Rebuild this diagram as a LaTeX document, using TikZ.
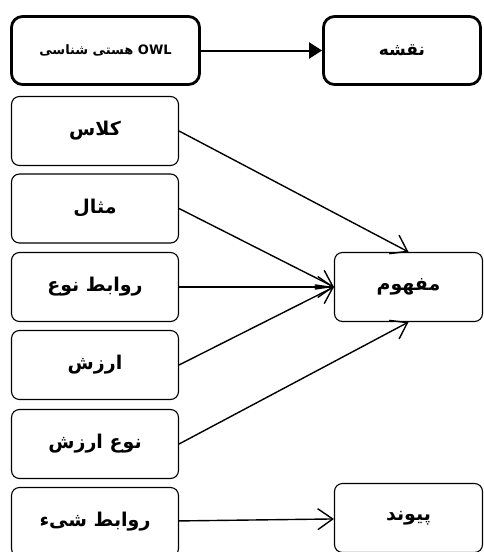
\documentclass[tikz,border=0pt]{standalone}
\usepackage{fontspec}
\newfontfamily\arabicfont[Script=Arabic]{DejaVu Sans}
\TeXXeTstate=1
\usetikzlibrary{arrows.meta}
\tikzset{
  every picture/.style={font=\arabicfont\bfseries},
  item/.style={draw, rounded corners=8pt, line width=1.1pt,
    minimum width=167pt, minimum height=69pt,
    font=\arabicfont\bfseries\fontsize{19}{22}\selectfont},
  topbox/.style={item, line width=2.8pt, rounded corners=11pt, minimum height=68pt},
  conn/.style={line width=1.4pt, -{Straight Barb[length=15pt, width=21pt]}},
  flow/.style={line width=2pt, -{Triangle[length=13pt, width=16pt]}},
}
\newcommand{\fatext}[1]{\beginR #1\endR}
\def\colx{95}
\def\rcolx{408.5}

\begin{document}
\begin{tikzpicture}[x=1pt, y=-1pt]
  \path[use as bounding box] (0,0) rectangle (484,552);
  \clip (0,0) rectangle (484,552);
  % top row
  \node[topbox, minimum width=188pt, font=\arabicfont\bfseries\fontsize{13}{15}\selectfont]
    (owl) at (105.5,50.5) {\fatext{\beginL OWL\endL{} هستی شناسی}};
  \node[topbox, minimum width=157pt, font=\arabicfont\bfseries\fontsize{17}{20}\selectfont]
    (map) at (402,50.5) {\fatext{نقشه}};
  \draw[flow] (owl) -- (map);
  % left column
  \node[item] (cls)  at (\colx,131)   {\fatext{کلاس}};
  \node[item] (inst) at (\colx,208.5) {\fatext{مثال}};
  \node[item] (trel) at (\colx,287)   {\fatext{روابط نوع}};
  \node[item] (val)  at (\colx,365)   {\fatext{ارزش}};
  \node[item] (vtyp) at (\colx,444)   {\fatext{نوع ارزش}};
  \node[item] (orel) at (\colx,522)   {\fatext{روابط شیء}};
  % right column
  \node[item, minimum width=148pt] (conc) at (\rcolx,287) {\fatext{مفهوم}};
  \node[item, minimum width=148pt] (lnk)  at (\rcolx,518) {\fatext{پیوند}};
  \draw[conn] (cls.east)  -- (conc.north);
  \draw[conn] (inst.east) -- (conc.west);
  \draw[conn] (trel)      -- (conc);
  \draw[conn] (val.east)  -- (conc.west);
  \draw[conn] (vtyp.east) -- (conc.south);
  \draw[conn] (orel)      -- (lnk);
\end{tikzpicture}
\end{document}
